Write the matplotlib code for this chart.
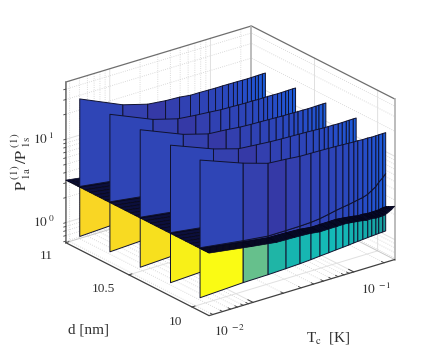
import matplotlib
matplotlib.use('Agg')
import matplotlib.pyplot as plt
from mpl_toolkits.mplot3d.art3d import Poly3DCollection
import numpy as np

plt.rcParams['font.family'] = ['Liberation Serif', 'DejaVu Serif']
plt.rcParams['mathtext.fontset'] = 'stix'

# data (z values are log10 of P1a/P1s)
Tc = [.00366, .00977, .01726, .0260, .0358, .0460, .0565, .0693, .0815, .0955,
      .1094, .1227, .1343, .1507, .1687, .1849, .2028, .2168, .2377, .2547]
d_vals = [10.889, 10.65, 10.41, 10.17, 9.936]

tops = [
    [1.57, 1.344, 1.261, 1.238, 1.23, 1.213, 1.213, 1.21, 1.208, 1.209, 1.208, 1.207, 1.207, 1.205, 1.204, 1.205, 1.206, 1.207, 1.208, 1.208],
    [1.57, 1.353, 1.27, 1.248, 1.235, 1.223, 1.22, 1.216, 1.213, 1.214, 1.21, 1.212, 1.212, 1.211, 1.209, 1.21, 1.211, 1.212, 1.213, 1.213],
    [1.57, 1.359, 1.274, 1.258, 1.24, 1.233, 1.23, 1.226, 1.223, 1.219, 1.22, 1.217, 1.217, 1.216, 1.214, 1.215, 1.216, 1.217, 1.218, 1.218],
    [1.57, 1.369, 1.281, 1.263, 1.25, 1.243, 1.24, 1.236, 1.233, 1.229, 1.225, 1.222, 1.222, 1.221, 1.219, 1.22, 1.221, 1.222, 1.223, 1.223],
    [1.572, 1.379, 1.287, 1.271, 1.255, 1.252, 1.25, 1.246, 1.243, 1.239, 1.235, 1.232, 1.232, 1.228, 1.229, 1.225, 1.226, 1.227, 1.228, 1.228],
]
mids = [.52, .449, .414, .415, .417, .423, .435, .456, .475, .489, .50, .512, .522, .533, .554, .585, .616, .657, .698, .738]
sheet = [.51, .434, .394, .388, .38, .363, .365, .366, .368, .359, .35, .342, .332, .333, .324, .325, .326, .327, .338, .338]
sheet_edge = [.51, .434, .394, .388, .38, .363, .365, .366, .368, .359, .35, .342, .332, .333, .324, .325, .33, .345, .37, .40]
bottoms = [-.08, -.055, -.05, -.042, -.034, -.025, -.015, -.007, .001, .007, .013, .02, .024, .029, .034, .038, .041, .044, .0465, .049]

blue_cols = ['#2f45b6', '#3440ae', '#3539a6', '#333fae', '#3041b2', '#2f42b4', '#2e43b6', '#2d44b8', '#2c46ba', '#2a48bd',
             '#2a48c0', '#2849c2', '#274bc5', '#264dc8', '#2450cc', '#2353cf', '#2156d2', '#1f59d6', '#1c5cda']
low_front = ['#fafb14', '#66c08c', '#1fb5a6', '#16b5b0', '#17b6b2', '#15b9b4', '#15bab6', '#14bab8', '#15b8b8', '#14b5b5',
             '#14b2b2', '#13b0b0', '#14aeae', '#14abab', '#15a8a8', '#16a5a5', '#17a3a3', '#18a0a0', '#199e9e']
yellows = ['#f9d624', '#f8da22', '#f7e01e', '#f8f018', '#fafb14']

xmin, xmax = np.log10(.00366), np.log10(.2547)
ymin, ymax = 9.865, 11.0
zmin, zmax = -.24, 1.687

lx = np.log10(Tc)
fig = plt.figure(figsize=(4.36, 3.54), dpi=100)
ax = fig.add_axes([0.017, 0.004, 1, 1], projection='3d', proj_type='ortho', computed_zorder=False)
ax.set_box_aspect((233.5, 234, 174), zoom=1.028)
ax.view_init(elev=23.1, azim=-127.6)
ax.set_xlim(xmin, xmax)
ax.set_ylim(ymin, ymax)
ax.set_zlim(zmin, zmax)
ax.set_axis_off()

grid = '#e0e0e0'
minor = '#cfcfcf'
minors = np.log10([2, 3, 4, 5, 6, 7, 8, 9])
x_major = [-2, -1]
x_minor = [e + m for e in (-3, -2, -1) for m in minors]
x_minor = [v for v in x_minor if xmin < v < xmax]
z_major = [0, 1]
z_minor = [e + m for e in (-1, 0, 1) for m in minors]
z_minor = [v for v in z_minor if zmin < v < zmax]
y_major = [10, 10.5]


def line(xs, ys, zs, **kw):
    ax.plot(xs, ys, zs, zorder=kw.pop('zorder', 1), **kw)


# wall and floor grids
for z, ls, col, lw in [(v, ':', minor, .6) for v in z_minor] + [(v, '-', grid, .7) for v in z_major]:
    line([xmin, xmax, xmax], [ymax, ymax, ymin], [z, z, z], ls=ls, c=col, lw=lw)
for x, ls, col, lw in [(v, ':', minor, .6) for v in x_minor] + [(v, '-', grid, .7) for v in x_major]:
    line([x, x, x], [ymin, ymax, ymax], [zmin, zmin, zmax], ls=ls, c=col, lw=lw)
for y in y_major:
    line([xmin, xmax, xmax], [y, y, y], [zmin, zmin, zmax], ls='-', c=grid, lw=.7)

# box
box_col = '#6e6e6e'
line([xmin, xmin, xmax, xmax], [ymax, ymax, ymax, ymin], [zmin, zmax, zmax, zmax], c=box_col, lw=.9)
line([xmax, xmax], [ymin, ymin], [zmin, zmax], c='#b0b0b0', lw=1.2)
line([xmax, xmax], [ymax, ymax], [zmin, zmax], c='#b0b0b0', lw=1.2)
line([xmax, xmax, xmin], [ymin, ymax, ymax], [zmin, zmin, zmin], c='#c8c8c8', lw=.7)
line([xmin, xmin, xmax], [ymax, ymin, ymin], [zmin, zmin, zmin], c='#404040', lw=.9)
line([xmin, xmin], [ymax, ymax], [zmin, zmax], c='#808080', lw=1.1)

# ticks
tick_col = '#404040'
dy = .02
for x in x_major:
    line([x, x], [ymin, ymin + 2 * dy], [zmin, zmin], c=tick_col, lw=.7)
for x in x_minor:
    line([x, x], [ymin, ymin + dy], [zmin, zmin], c=tick_col, lw=.6)
for y in y_major + [11]:
    line([xmin, xmin + .03], [y, y], [zmin, zmin], c=tick_col, lw=.7)
for z in z_major + z_minor:
    line([xmin, xmin - .02], [ymax, ymax], [z, z], c=tick_col, lw=.6)


def add_polys(polys, faces, edge, lw, zorder):
    coll = Poly3DCollection(polys, facecolors=faces, edgecolors=edge, linewidths=lw, zsort='average')
    coll.set_zorder(zorder)
    ax.add_collection3d(coll)


def strip(y0, y1, z0, z1, zorder):
    # flat dark sheet between two rows, z0 at y0 and z1 at y1
    rows = np.linspace(0, 1, 7)
    z0, z1 = np.array(z0), np.array(z1)
    polys = []
    for r0, r1 in zip(rows[:-1], rows[1:]):
        ya, yb = y0 + r0 * (y1 - y0), y0 + r1 * (y1 - y0)
        za, zb = z0 + r0 * (z1 - z0), z0 + r1 * (z1 - z0)
        for i in range(len(lx) - 1):
            polys.append([(lx[i], ya, za[i]), (lx[i + 1], ya, za[i + 1]),
                          (lx[i + 1], yb, zb[i + 1]), (lx[i], yb, zb[i])])
    add_polys(polys, '#0c0f3c', '#04041a', .5, zorder)


def curtain(y, top, low_cols, zorder):
    for z0, z1, cols, zo in [(bottoms, sheet, low_cols, zorder),
                             (sheet, mids, blue_cols, zorder + .1),
                             (mids, top, blue_cols, zorder + .2)]:
        polys = []
        for i in range(len(lx) - 1):
            polys.append([(lx[i], y, z0[i]), (lx[i + 1], y, z0[i + 1]),
                          (lx[i + 1], y, z1[i + 1]), (lx[i], y, z1[i])])
        add_polys(polys, cols, '#10122e', .7, zo)


# painter's order, back row first
strip(d_vals[0], ymax, sheet, sheet, 5)
for k, y in enumerate(d_vals):
    curtain(y, tops[k], [yellows[k]] + low_front[1:], 10 + 4 * k)
    if k + 1 < len(d_vals):
        strip(d_vals[k + 1], y, sheet, sheet, 12 + 4 * k)
    else:
        strip(ymin, y, sheet_edge, sheet, 12 + 4 * k)


# text
def px(x, y):
    return x / 436, 1 - y / 354


txt = '#303030'
fs = 9.6
for s, x, y in [('$\\mathrm{10}^{\\,\\,1}$', 33, 144), ('$\\mathrm{10}^{\\,\\,0}$', 33, 227),
                ('$\\mathrm{10}^{\\,\\,-2}$', 214, 336), ('$\\mathrm{10}^{\\,\\,-1}$', 361, 294),
                ('11', 40, 259), ('10.5', 92, 292), ('10', 169, 325)]:
    fig.text(*px(x, y), s, fontsize=fs, color=txt, ha='left', va='baseline')
fig.text(*px(68, 333), 'd [nm]', fontsize=11, color=txt, ha='left', va='baseline')
fig.text(*px(306, 342), 'T$_{\\mathrm{c}}$  [K]', fontsize=11, color=txt, ha='left', va='baseline')
fig.text(*px(21, 162), '$\\mathrm{P}^{\\,\\,(1)}_{\\,\\,\\mathrm{1a}}\\,/\\mathrm{P}^{\\,\\,(1)}_{\\,\\,\\mathrm{1s}}$',
         fontsize=11.5, color=txt, rotation=90, ha='center', va='center')

fig.savefig('out.png', dpi=100)
